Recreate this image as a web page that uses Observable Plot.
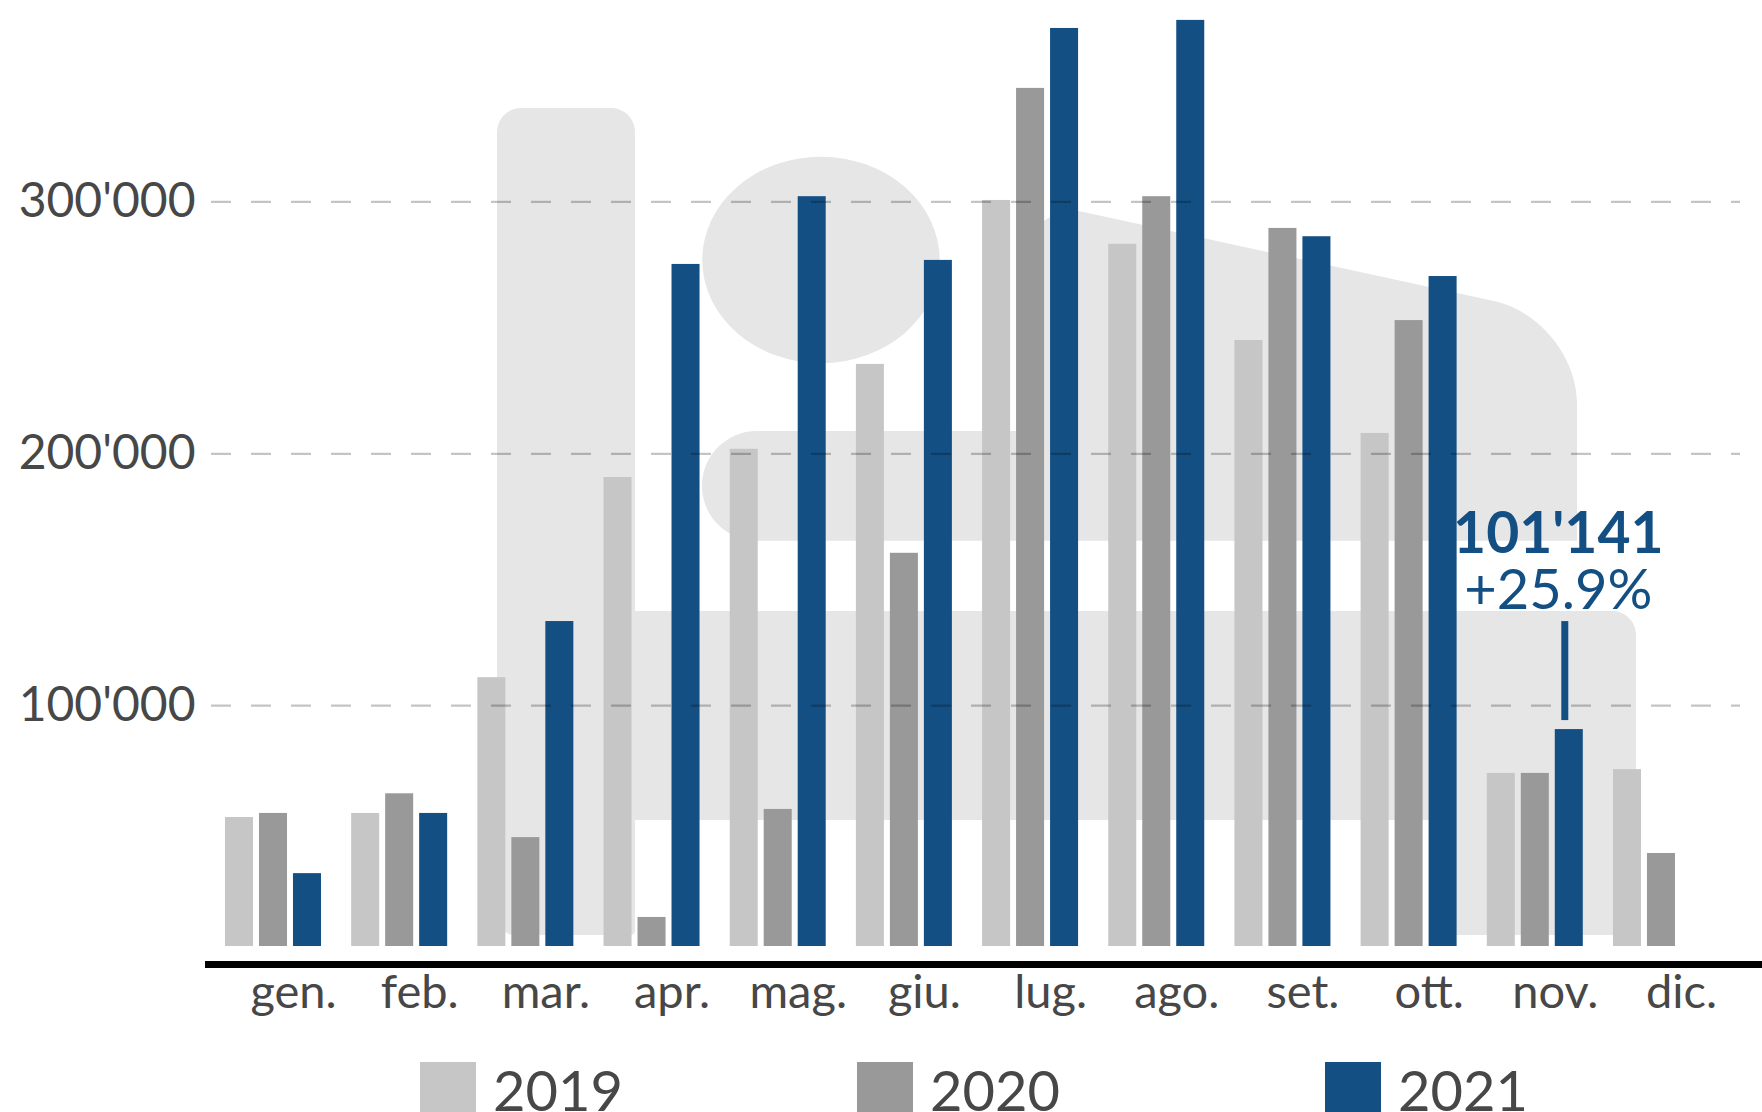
<!DOCTYPE html>
<html><head><meta charset="utf-8">
<script src="https://cdn.jsdelivr.net/npm/d3@7"></script>
<script src="https://cdn.jsdelivr.net/npm/@observablehq/plot@0.6"></script>
<style>
html,body{margin:0;padding:0;background:#fff;}
body{width:1762px;height:1112px;overflow:hidden;font-family:Lato, sans-serif;}
#legend{position:relative;height:60px;margin-top:2px;}
.item{position:absolute;top:0;display:flex;align-items:flex-start;}
.sw{width:56px;height:60px;}
.lab{font-size:56px;line-height:1;color:#474747;margin-left:17px;}
</style></head><body>
<div id="chart"></div>
<div id="legend"></div>
<script>
// ---- data ----
const months = ["gen.","feb.","mar.","apr.","mag.","giu.","lug.","ago.","set.","ott.","nov.","dic."];
const years = ["2019","2020","2021"];
const values2019 = [55600, 57200, 111100, 190600, 201800, 235500, 300600, 283200, 245000, 208100, 73100, 74600];
const values2020 = [57200, 65000, 47600, 15900, 58800, 160500, 345100, 302100, 289500, 252900, 73100, 41300];
const values2021 = [33300, 57200, 133400, 275200, 302100, 276800, 368900, 372100, 286200, 270400, 90500];
const yearColors = ["#c6c6c6", "#999999", "#144f84"];
const yTicks = [100000, 200000, 300000];
const yTickLabels = ["100'000", "200'000", "300'000"];
const noteMonth = "nov.";
const noteYear = "2021";
const noteValue = "101'141";
const noteChange = "+25.9%";
const legendLeft = [420, 857, 1325];

// decorative bed pictogram, in chart units (month index from the first group, value)
const bedHeadboard = [[2.156, 337100, 24], [3.249, 337100, 24], [3.249, 8700, 4], [2.156, 8700, 18]];
const bedPillow = {t: 4.723, v: 276800, dt: 0.9407, dv: 41000};
const bedBody = [[3.780, 208900, 55], [6.356, 208900, 0], [6.356, 300700, 60], [10.715, 253300, 85], [10.715, 165300, 0], [3.780, 165300, 55]];
const bedFrame = [[3.249, 137400, 0], [11.183, 137400, 24], [11.183, 8700, 20], [9.669, 8700, 0], [9.669, 54400, 0], [3.249, 54400, 0]];

// ---- layout ----
const W = 1762, H = 1060, mL = 207, mR = 22, mT = 0, mB = 103;
const xOpts = {paddingInner: 0.2392, paddingOuter: 0.1942, align: 0.367};
const groupBand = d3.scaleBand(months, [mL, W - mR]).paddingInner(xOpts.paddingInner).paddingOuter(xOpts.paddingOuter).align(xOpts.align);
const groupWidth = groupBand.bandwidth();
const sub = d3.scaleBand(years, [0, groupWidth]).paddingInner(0.176).paddingOuter(0);

// ---- tables ----
const series = [values2019, values2020, values2021].map((vals, k) =>
  vals.map((v, i) => ({month: months[i], year: years[k], value: v})));
const note = [{month: noteMonth, year: noteYear, value: values2021[months.indexOf(noteMonth)], label: noteValue, change: noteChange}];
const noteShift = sub(noteYear) + sub.bandwidth() / 2 - groupWidth / 2;

const blue = yearColors[2];
const textColor = "#474747";

const plot = Plot.plot({
  width: W, height: H,
  marginTop: mT, marginRight: mR, marginBottom: mB, marginLeft: mL,
  style: {fontFamily: "Lato, sans-serif", color: textColor, background: "transparent", overflow: "visible"},
  x: {domain: months, ...xOpts, round: false},
  y: {domain: [0, 380000]},
  color: {domain: years, range: yearColors},
  marks: [
    ...years.map((yr, k) => Plot.barY(series[k], {
      x: "month", y: "value", fill: "year", insetBottom: 11,
      insetLeft: sub(yr), insetRight: groupWidth - sub(yr) - sub.bandwidth()
    })),
    Plot.ruleY(yTicks, {stroke: "#000", strokeOpacity: 0.23, strokeWidth: 2.2, strokeDasharray: "20,20", strokeDashoffset: -4}),
    Plot.ruleY([0], {stroke: "#000", strokeWidth: 7, dy: 7, insetLeft: -2, insetRight: -mR}),
    Plot.axisY(yTicks, {tickSize: 0, tickPadding: 12, fontSize: 48, fill: textColor, tickFormat: d => yTickLabels[yTicks.indexOf(d)], label: null}),
    Plot.axisX({tickSize: 0, tickPadding: 17, fontSize: 47, fill: textColor, dx: 20, label: null}),
    Plot.ruleX(note, {x: "month", y1: "value", y2: "value", insetTop: -108, insetBottom: 9, stroke: blue, strokeWidth: 7, dx: noteShift - 4.5}),
    Plot.text(note, {x: "month", y: "value", text: "label", fontSize: 57, fontWeight: "bold", fill: blue, lineAnchor: "bottom", dy: -177, dx: noteShift - 11}),
    Plot.text(note, {x: "month", y: "value", text: "change", fontSize: 56, fill: blue, lineAnchor: "bottom", dy: -121, dx: noteShift - 11})
  ]
});
document.getElementById("chart").appendChild(plot);

// ---- bed pictogram behind the bars, placed through the plot's scales ----
const xS = plot.scale("x"), yS = plot.scale("y");
const x0 = xS.apply(months[0]);
const step = xS.apply(months[1]) - x0;
const X = t => x0 + t * step;
const Y = v => yS.apply(v);
const K = 0.5523;
function roundedPath(pts) {
  const n = pts.length; let d = "";
  for (let i = 0; i < n; i++) {
    const [x, y, r] = pts[i];
    const [px, py] = pts[(i - 1 + n) % n], [nx, ny] = pts[(i + 1) % n];
    const l1 = Math.hypot(px - x, py - y), l2 = Math.hypot(nx - x, ny - y);
    const rr = Math.min(r, l1 / 2, l2 / 2);
    const ax = x + (px - x) * rr / l1, ay = y + (py - y) * rr / l1;
    const bx = x + (nx - x) * rr / l2, by = y + (ny - y) * rr / l2;
    d += (i === 0 ? "M" : "L") + ax + "," + ay +
      "C" + (ax + (x - ax) * K) + "," + (ay + (y - ay) * K) + " " + (bx + (x - bx) * K) + "," + (by + (y - by) * K) + " " + bx + "," + by;
  }
  return d + "Z";
}
const toPx = arr => arr.map(([t, v, r]) => [X(t), Y(v), r]);
const ns = "http://www.w3.org/2000/svg";
const g = document.createElementNS(ns, "g");
g.setAttribute("fill", "#e6e6e6");
[bedHeadboard, bedBody, bedFrame].forEach(shape => {
  const p = document.createElementNS(ns, "path");
  p.setAttribute("d", roundedPath(toPx(shape)));
  g.appendChild(p);
});
const el = document.createElementNS(ns, "ellipse");
el.setAttribute("cx", X(bedPillow.t));
el.setAttribute("cy", Y(bedPillow.v));
el.setAttribute("rx", X(bedPillow.t + bedPillow.dt) - X(bedPillow.t));
el.setAttribute("ry", Y(bedPillow.v - bedPillow.dv) - Y(bedPillow.v));
g.appendChild(el);
const styleEl = plot.querySelector("style");
plot.insertBefore(g, styleEl ? styleEl.nextSibling : plot.firstChild);

// ---- legend ----
const legend = document.getElementById("legend");
years.forEach((yr, i) => {
  const item = document.createElement("div");
  item.className = "item";
  item.style.left = legendLeft[i] + "px";
  const sw = document.createElement("div");
  sw.className = "sw";
  sw.style.background = yearColors[i];
  const lab = document.createElement("span");
  lab.className = "lab";
  lab.textContent = yr;
  item.appendChild(sw); item.appendChild(lab);
  legend.appendChild(item);
});
</script>
</body></html>
